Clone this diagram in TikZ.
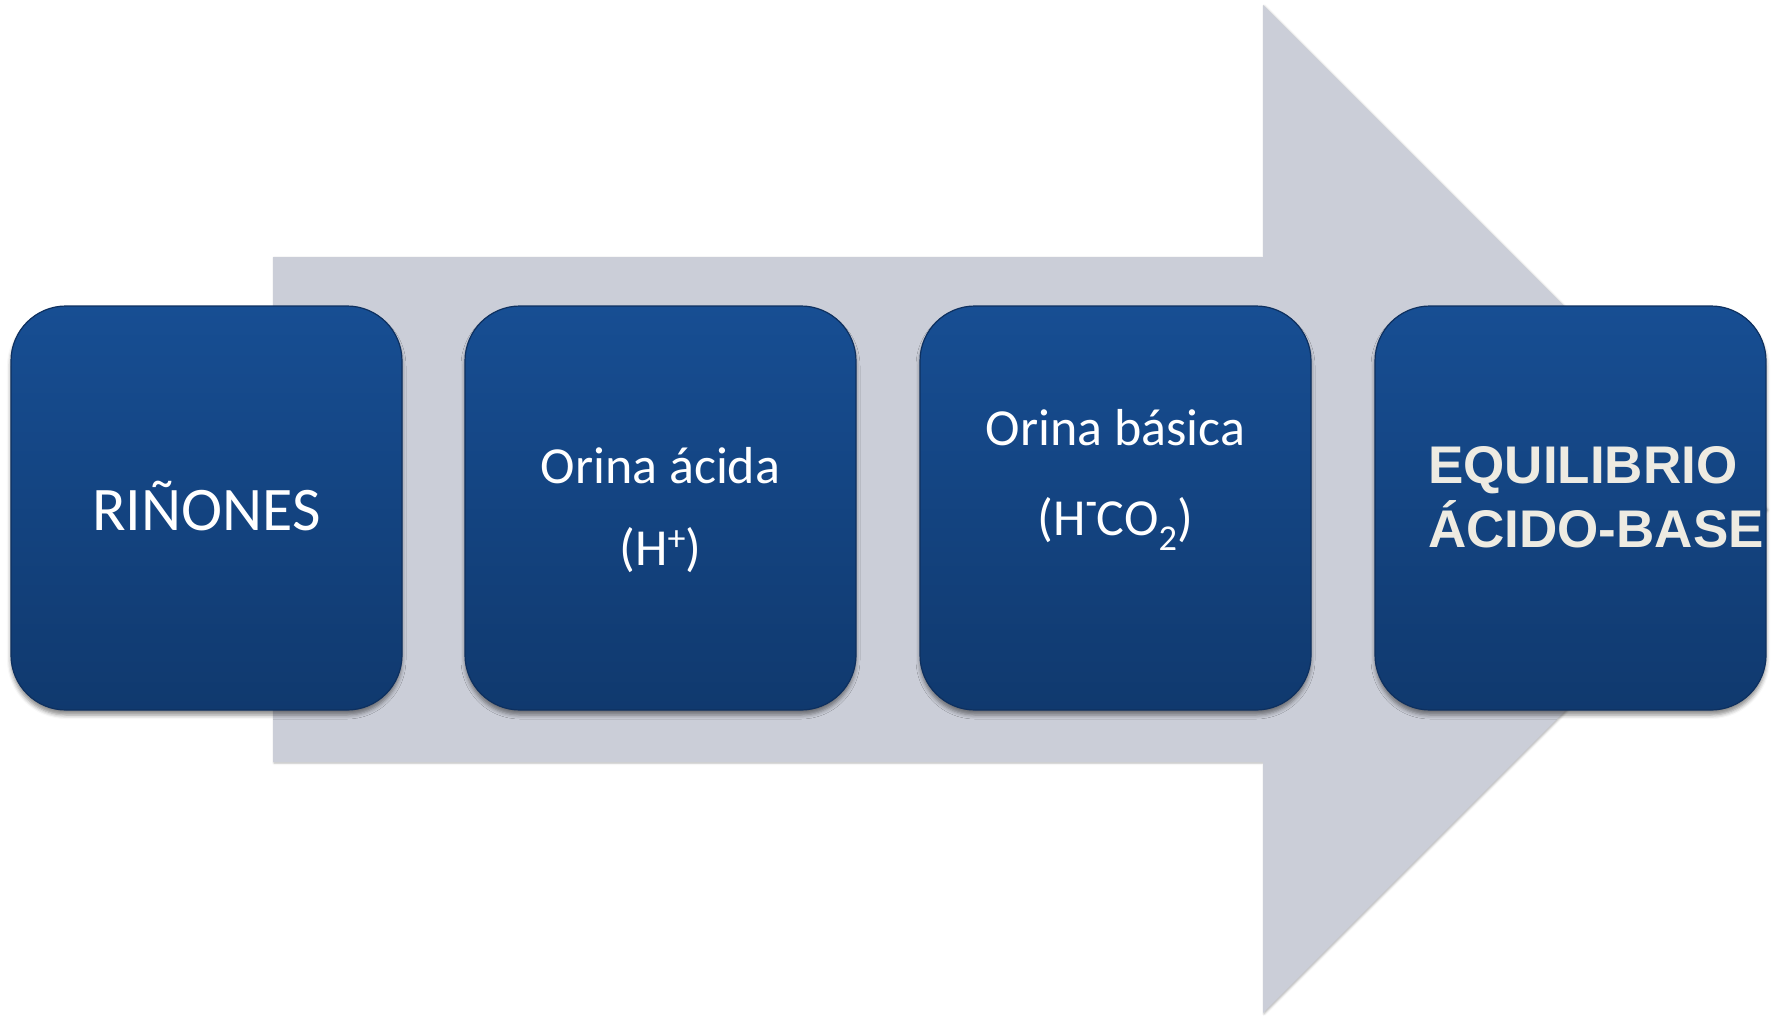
\documentclass[tikz,border=0pt]{standalone}
\usepackage{fontspec}
\setmainfont{Carlito}
\newfontfamily\arialbold{Liberation Sans}
\usetikzlibrary{shadows.blur}
\definecolor{arrowgray}{RGB}{203,206,216}
\definecolor{boxtop}{RGB}{23,78,147}
\definecolor{boxbot}{RGB}{16,57,110}
\definecolor{boxedge}{RGB}{14,48,95}
\definecolor{offwhite}{RGB}{238,235,226}
\tikzset{
  bluebox/.style={rectangle, rounded corners=55pt, minimum width=391pt, minimum height=404pt,
    top color=boxtop, bottom color=boxbot, draw=boxedge, line width=1.2pt,
    blur shadow={shadow xshift=0pt, shadow yshift=-5pt, shadow blur radius=4pt, shadow opacity=45}},
  txt/.style={text=white, anchor=base, inner sep=0pt},
  bigtxt/.style={txt, font=\fontsize{62}{70}\selectfont},
  midtxt/.style={txt, font=\fontsize{52}{60}\selectfont},
  boldtxt/.style={text=offwhite, anchor=base west, inner sep=0pt, font=\fontsize{53}{60}\arialbold\bfseries}
}
\begin{document}
\begin{tikzpicture}[x=1pt,y=-1pt]
\useasboundingbox (0,0) rectangle (1771,1015);
% big arrow
\fill[arrowgray, blur shadow={shadow xshift=1pt, shadow yshift=-1pt, shadow blur radius=2pt, shadow opacity=30}]
  (273,257) -- (1263,257) -- (1263,5) -- (1767,509) -- (1263,1013) -- (1263,762) -- (273,762) -- cycle;
% boxes
\node[bluebox] (b1) at (206.5,508) {};
\node[bluebox] (b2) at (660.5,508) {};
\node[bluebox] (b3) at (1115.5,508) {};
\node[bluebox] (b4) at (1570.5,508) {};
% texts
\node[bigtxt] (t1) at (206.5,530) {RIÑONES};
\node[midtxt] (t2a) at (660.5,483) {Orina ácida};
\node[midtxt] (t2b) at (660.5,565) {(H\raisebox{0.27em}{\fontsize{36}{40}\selectfont +})};
\node[midtxt] (t3a) at (1115.5,445) {Orina básica};
\node[midtxt] (t3b) at (1115.5,535) {(H\raisebox{0.4em}{\fontsize{36}{40}\selectfont\bfseries -}CO\textsubscript{2})};
\node[boldtxt] (t4a) at (1428,483) {EQUILIBRIO};
\node[boldtxt] (t4b) at (1428,547) {ÁCIDO-BASE};
\end{tikzpicture}
\end{document}
